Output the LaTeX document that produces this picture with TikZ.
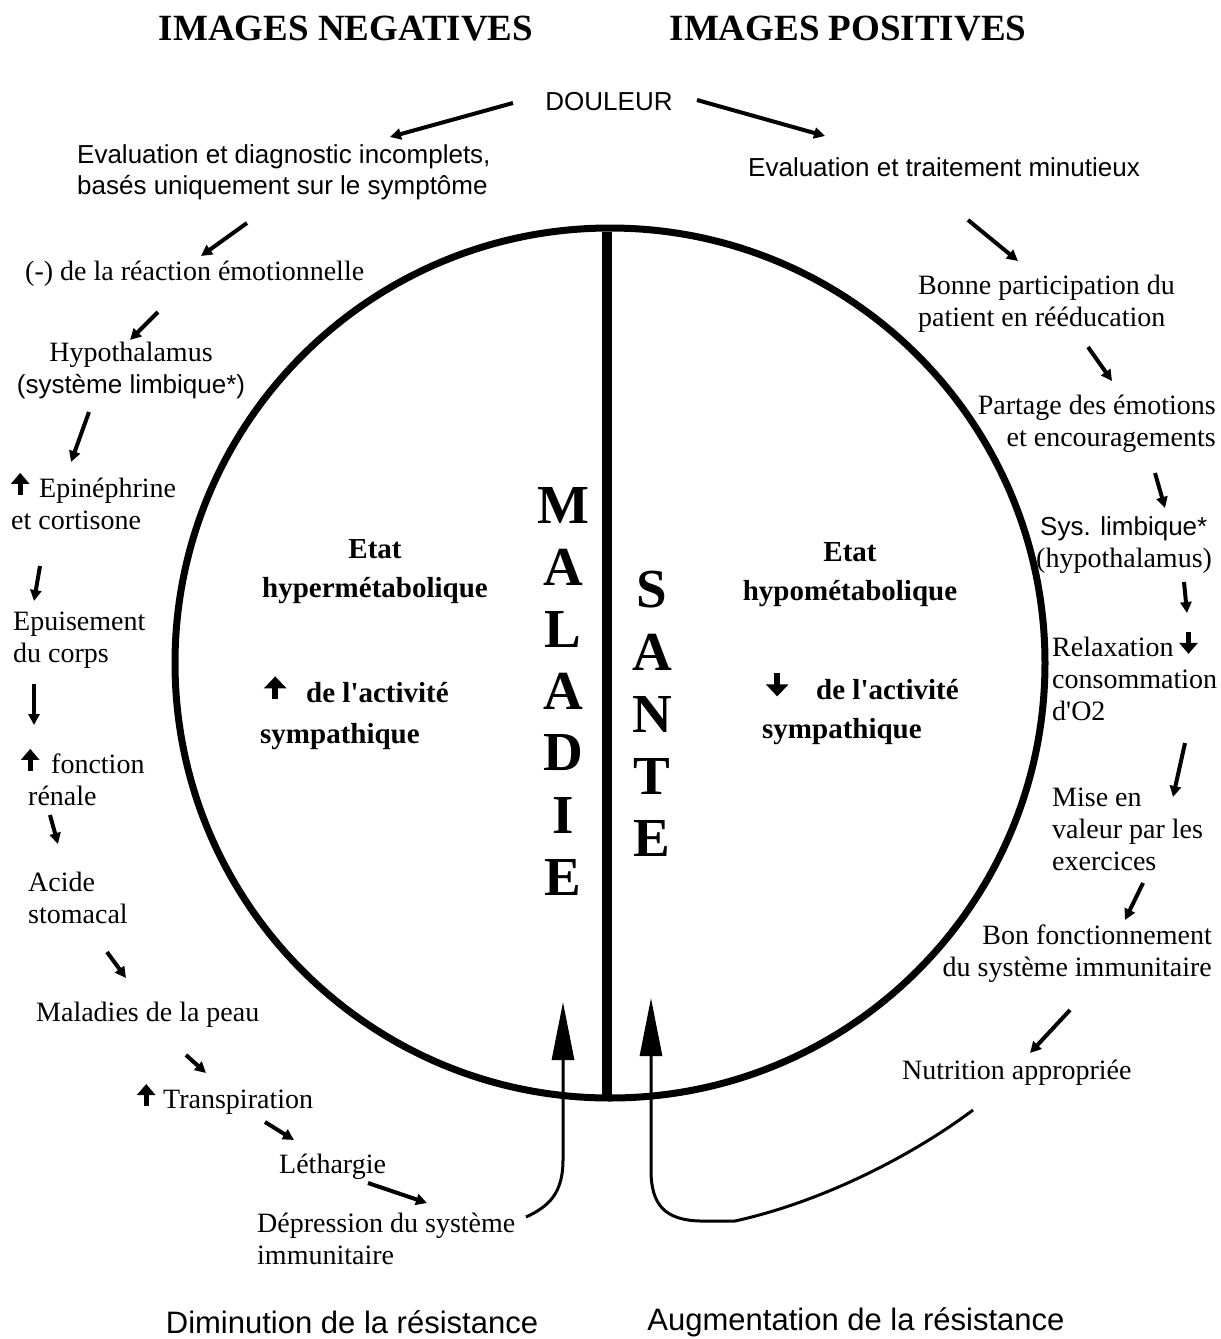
\documentclass[tikz,border=0pt]{standalone}
\usepackage{fontspec}
\setmainfont{Liberation Serif}
\setsansfont{Liberation Sans}
\usetikzlibrary{arrows.meta}
\newsavebox\upbox
\newsavebox\downbox
\newsavebox\bigupbox
\newsavebox\bigdownbox
\newcommand{\flup}{\usebox\upbox}
\newcommand{\fldown}{\usebox\downbox}
\newcommand{\bigup}{\usebox\bigupbox}
\newcommand{\bigdown}{\usebox\bigdownbox}
\newcommand{\sfline}{\sffamily\fontsize{26}{32}\selectfont}
% bold arrow glyph drawn with pgf: #1 box, #2 shaft width, #3 head length, #4 head width, #5 from y, #6 to y
\newcommand{\makearrowbox}[6]{%
  \sbox#1{\begin{pgfpicture}%
    \pgfsetlinewidth{#2}%
    \pgfsetarrowsend{Triangle[length=#3,width=#4]}%
    \pgfpathmoveto{\pgfpoint{0pt}{#5}}%
    \pgfpathlineto{\pgfpoint{0pt}{#6}}%
    \pgfusepath{stroke}%
  \end{pgfpicture}}}

\begin{document}
\makearrowbox{\upbox}{5pt}{11pt}{18pt}{0pt}{22pt}
\makearrowbox{\downbox}{5pt}{11pt}{18pt}{22pt}{0pt}
\makearrowbox{\bigupbox}{5.5pt}{12pt}{22pt}{0pt}{23pt}
\makearrowbox{\bigdownbox}{5.5pt}{12pt}{22pt}{23pt}{0pt}
\begin{tikzpicture}[x=1pt,y=-1pt,
   txt/.style={inner sep=0pt,font=\fontsize{28}{32}\selectfont,align=left},
   sftxt/.style={inner sep=0pt,font=\sffamily\fontsize{26}{31}\selectfont,align=left},
   bottomtxt/.style={inner sep=0pt,font=\sffamily\fontsize{31}{36}\selectfont},
   heading/.style={inner sep=0pt,font=\bfseries\fontsize{37}{40}\selectfont},
   state/.style={inner sep=0pt,font=\bfseries\fontsize{29}{39}\selectfont,align=center},
   bigletter/.style={inner sep=0pt,font=\bfseries\fontsize{55}{60}\selectfont},
   arr/.style={-{Triangle[length=11pt,width=11pt]},line width=4pt},
   uparr/.style={-{Triangle[length=58pt,width=22pt]},line width=3pt}]
 \useasboundingbox (0,0) rectangle (1221,1339);
 % headings
 \node[heading] (neg) at (346,29) {IMAGES NEGATIVES};
 \node[heading] (pos) at (848,29) {IMAGES POSITIVES};
 \node[sftxt] (douleur) at (609,102) {DOULEUR};
 % circle split in two halves
 \draw[line width=7pt] (610,663) circle [radius=435];
 \draw[line width=10pt] (607,232) -- (607,1095);
 \foreach \l [count=\k from 0] in {M,A,L,A,D,I,E}
   \node[bigletter] (mal\k) at (563,{505+62*\k}) {\l};
 \foreach \l [count=\k from 0] in {S,A,N,T,E}
   \node[bigletter] (san\k) at (652,{590+62*\k}) {\l};
 % inside the halves
 \node[state] (hyper) at (375,572) {Etat\\hypermétabolique};
 \node[state,anchor=west] (actg) at (264,688) {\bigup\hspace{20pt}de l\textquotesingle activité};
 \node[state,anchor=west] (symg) at (260,737) {sympathique};
 \node[state] (hypom) at (850,575) {Etat\\hypométabolique};
 \node[state,anchor=west] (actd) at (766,685) {\bigdown\hspace{28pt}de l\textquotesingle activité};
 \node[state,anchor=west] (symd) at (762,732) {sympathique};
 % negative chain (left)
 \node[sftxt,anchor=west] (evald) at (77,172) {Evaluation et diagnostic incomplets,\\basés uniquement sur le symptôme};
 \node[txt,anchor=west] (emot) at (25,274) {(-) de la réaction émotionnelle};
 \node[txt,align=center] (hypoth) at (131,370) {Hypothalamus\\{\sfline (système limbique*)}};
 \node[txt,anchor=west] (epin) at (11,500) {\flup\hspace{10pt}Epinéphrine\\et cortisone};
 \node[txt,anchor=west] (epuis) at (13,640) {Epuisement\\du corps};
 \node[txt,anchor=west] (fonct) at (21,776) {\flup\hspace{12pt}fonction\\\hspace*{7pt}rénale};
 \node[txt,anchor=west] (acide) at (28,898) {Acide\\stomacal};
 \node[txt,anchor=west] (peau) at (36,1015) {Maladies de la peau};
 \node[txt,anchor=west] (transp) at (137,1098) {\flup\hspace{8pt}Transpiration};
 \node[txt,anchor=west] (leth) at (279,1167) {Léthargie};
 \node[txt,anchor=west] (depr) at (257,1239) {Dépression du système\\immunitaire};
 \node[bottomtxt] (dimin) at (352,1322) {Diminution de la résistance};
 % positive chain (right)
 \node[sftxt,anchor=west] (evalt) at (748,167) {Evaluation et traitement minutieux};
 \node[txt,anchor=west] (bonne) at (918,304) {Bonne participation du\\patient en rééducation};
 \node[txt,anchor=east,align=right] (partage) at (1216,424) {Partage des émotions\\et encouragements};
 \node[txt,anchor=west] (sysl) at (1036,545) {\hspace*{4pt}{\sfline Sys. limbique*}\\(hypothalamus)};
 \node[txt,anchor=west] (relax) at (1052,675) {Relaxation\hspace{6pt}\fldown\\consommation\\d\textquotesingle O2};
 \node[txt,anchor=west] (mise) at (1052,829) {Mise en\\valeur par les\\exercices};
 \node[txt,anchor=east,align=right] (bonfonct) at (1212,954) {Bon fonctionnement\\du système immunitaire};
 \node[txt,anchor=west] (nutri) at (902,1073) {Nutrition appropriée};
 \node[bottomtxt] (augm) at (856,1322) {Augmentation de la résistance};
 % small arrows between the steps
 \foreach \sx/\sy/\ex/\ey [count=\n] in {513/103/390/137, 247/223/201/256, 158/312/130/340,
     89/412/71/462, 40/566/34/601, 34/684/34/725, 50/815/58/844, 107/952/126/978,
     186/1055/206/1073, 265/1122/294/1140, 368/1183/427/1203,
     697/100/825/136, 968/220/1018/261, 1088/347/1112/381, 1155/473/1165/508,
     1184/582/1187/613, 1185/743/1173/797, 1143/883/1125/920, 1070/1010/1030/1053} {
   \coordinate (s\n) at (\sx,\sy);
   \coordinate (e\n) at (\ex,\ey);
   \draw[arr] (s\n) -- (e\n);
 }
 % loops back into the circle
 \coordinate (lsA) at (526,1217);
 \coordinate (lsTip) at (563,1002);
 \draw[uparr] (lsA) .. controls (550,1206) and (563,1192) .. (563,1160) -- (lsTip);
 \coordinate (rsA) at (973,1110);
 \coordinate (rsTip) at (651,998);
 \draw[uparr] (rsA) .. controls (920,1150) and (830,1200) .. (735,1221) -- (700,1221)
   .. controls (665,1220) and (651,1205) .. (651,1170) -- (rsTip);
\end{tikzpicture}
\end{document}
